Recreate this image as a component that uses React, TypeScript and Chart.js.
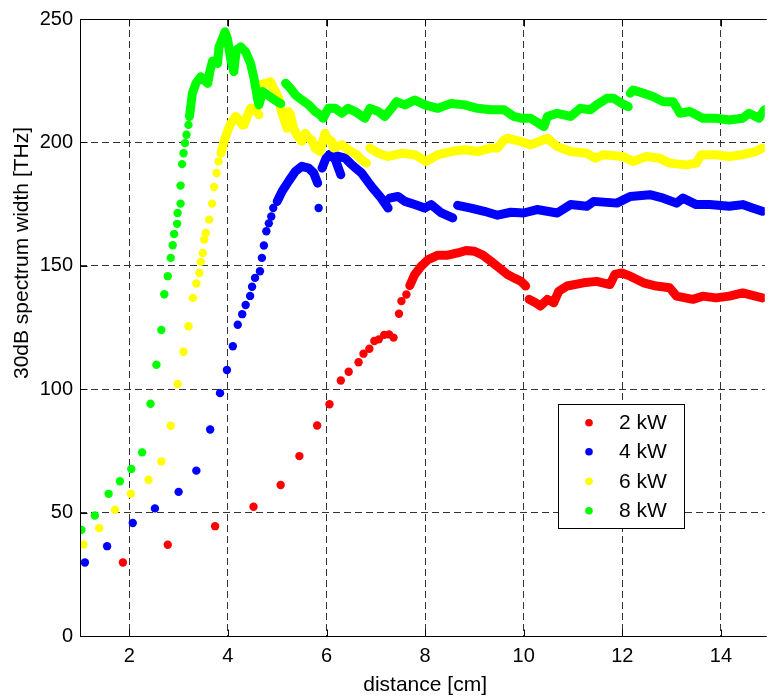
import React, { useEffect, useRef } from "react";
import { Chart, registerables } from "chart.js";

Chart.register(...registerables);

const W = 769;
const H = 697;

const FONT = "'Liberation Sans', Arial, Helvetica, sans-serif";

const xTicks = [2, 4, 6, 8, 10, 12, 14];
const yTicks = [0, 50, 100, 150, 200, 250];
const xMin = 1;
const xMax = 14.89;
const yMin = 0;
const yMax = 250;
const xTitle = "distance [cm]";
const yTitle = "30dB spectrum width [THz]";
const legendLabels = ["2 kW", "4 kW", "6 kW", "8 kW"];
const seriesColors = ["#ff0000", "#0000ff", "#ffff00", "#00ff00"];

// ---- 2 kW (red) ----
const red2SparseX = [1.87, 2.78, 3.74, 4.52, 5.07, 5.45, 5.81, 6.06, 6.29, 6.45, 6.65, 6.75, 6.87, 6.97, 7.06, 7.17, 7.27, 7.36, 7.47, 7.52, 7.62];
const red2SparseY = [29.8, 37, 44.5, 52.4, 61.2, 72.9, 85.3, 93.9, 103.5, 107.1, 110.9, 114.4, 116.4, 119.5, 120.2, 122, 122.2, 120.9, 130.6, 135.7, 138.4];
const red2DenseX = [7.69, 7.79, 7.92, 8.06, 8.26, 8.46, 8.66, 8.83, 9.0, 9.17, 9.33, 9.5, 9.67, 9.8, 9.94, 10.04, null, 10.11, 10.24, 10.34, 10.48, 10.61, 10.71, 10.88, 11.21, 11.48, 11.75, 11.85, 11.99, 12.16, 12.43, 12.69, 12.96, 13.1, 13.43, 13.63, 13.9, 14.17, 14.44, 14.84];
const red2DenseY = [142, 146.5, 149.8, 152.5, 154.3, 154.3, 155.2, 156.2, 155.9, 154.3, 151.9, 149.2, 146.5, 145.1, 143.8, 141.8, null, 136.4, 135, 133.7, 136.4, 135, 139.7, 141.8, 143.1, 143.7, 142.4, 146.5, 147.1, 145.8, 143.1, 141.8, 141.1, 137.7, 136.4, 137.7, 137, 137.7, 139, 137];

// ---- 4 kW (blue) ----
const blue4SparseX = [1.10, 1.55, 2.07, 2.52, 3.00, 3.36, 3.64, 3.84, 3.98, 4.10, 4.20, 4.29, 4.36, 4.45, 4.49, 4.55, 4.65, 4.69, 4.73, 4.78, 4.83, 4.88, 4.92, 5.84];
const blue4SparseY = [29.8, 36.4, 45.8, 51.7, 58.4, 67, 83.7, 98.4, 107.8, 117.4, 126.1, 130.4, 134.1, 137.8, 141.5, 145.1, 147.8, 153.2, 158.2, 164, 167.2, 170, 173.4, 173.4];
const blue4DenseX = [5.0, 5.10, 5.23, 5.37, 5.50, 5.64, 5.74, 5.82, null, 5.91, 5.99, 6.07, 6.18, 6.24, 6.29, null, 6.22, 6.38, 6.51, 6.71, 6.91, 7.11, 7.25, null, 7.28, 7.45, 7.59, 7.79, 7.99, 8.12, 8.33, 8.56, null, 8.66, 8.93, 9.2, 9.47, 9.74, 10.0, 10.27, 10.68, 10.95, 11.28, 11.42, 11.89, 12.16, 12.56, 12.83, 13.1, 13.23, 13.5, 13.77, 14.17, 14.44, 14.64, 14.84];
const blue4DenseY = [176.1, 180.2, 184.2, 188.3, 190.3, 189.6, 187.6, 183.5, null, 189.6, 193.6, 195.2, 193, 189.6, 186.9, null, 194.5, 193.6, 191, 187.6, 182.2, 177.4, 173.4, null, 177.4, 178.1, 176.1, 174.8, 173.4, 174.8, 171.4, 169.4, null, 174.5, 173.4, 172.1, 170.5, 171.7, 171.4, 172.8, 171.4, 174.8, 174.1, 176.1, 175.4, 178.1, 178.8, 177.4, 175.4, 177.4, 174.8, 174.8, 174.1, 174.8, 173.4, 172.1];

// ---- 6 kW (yellow) ----
const yel6SparseX = [1.07, 1.39, 1.71, 2.03, 2.39, 2.65, 2.84, 2.98, 3.10, 3.20, 3.29, 3.36, 3.42, 3.45, 3.49, 3.52, 3.55, 3.62, 3.68, 3.72, 3.77, 3.81];
const yel6SparseY = [37.1, 43.7, 51.1, 57.6, 63.3, 70.7, 85.2, 102.1, 115.2, 125.5, 137, 142.8, 147.1, 151.6, 155.2, 160.6, 163.3, 168.7, 175.2, 181.9, 187.6, 192.3];
const yel6DenseX = [3.86, 3.92, 3.99, 4.06, 4.16, 4.23, 4.29, 4.33, 4.39, 4.46, 4.53, 4.63, null, 4.66, 4.76, 4.86, 4.93, 5.03, 5.07, 5.13, 5.2, null, 5.23, 5.27, 5.33, 5.40, 5.5, 5.57, 5.64, 5.70, 5.77, 5.87, 5.97, 6.01, 6.11, 6.14, 6.31, 6.44, 6.61, 6.71, 6.81, null, 6.88, 7.05, 7.25, 7.52, 7.79, 8.02, 8.26, 8.53, 8.8, 9.06, 9.33, 9.47, 9.6, 9.67, 9.8, 9.94, 10.14, 10.48, 10.68, 10.95, 11.28, 11.45, 11.62, 12.02, 12.22, 12.49, 12.76, 12.96, 13.3, 13.5, 13.6, 13.9, 14.17, 14.44, 14.71, 14.84];
const yel6DenseY = [195.6, 200.4, 204.4, 207.8, 210.5, 209.1, 207.1, 207.1, 210.5, 213.8, 213.8, 211.2, null, 223.3, 223.9, 224.6, 221.9, 217.9, 213.8, 209.8, 205.7, null, 212.5, 211.2, 205.7, 203.1, 200.4, 203.7, 201.7, 201, 197.7, 196.3, 203.7, 201.7, 200.4, 197.7, 199, 197, 195, 193, 191.6, null, 197.7, 195.6, 194.3, 195.6, 195, 192.3, 195, 196.3, 197, 196.3, 197.7, 197.7, 201, 201.7, 201, 200.4, 199, 201.7, 198.3, 196.3, 195.6, 193.6, 195, 194.3, 192.3, 194.3, 193.6, 191.6, 190.9, 191.6, 195, 195, 194.3, 195, 196.3, 197.7];

// ---- 8 kW (green) ----
const grn8SparseX = [1.03, 1.30, 1.58, 1.81, 2.04, 2.26, 2.43, 2.55, 2.65, 2.71, 2.78, 2.84, 2.88, 2.91, 2.97, 2.98, 3.04, 3.04, 3.07, 3.10, 3.13, 3.16, 3.20];
const grn8SparseY = [43, 48.8, 57.6, 62.7, 67.7, 74.4, 94.1, 109.9, 124, 138.5, 145.8, 153.2, 158.3, 162.9, 167, 171.4, 175.2, 182.5, 191.2, 195.6, 199.7, 203.1, 207.1];
const grn8DenseX = [3.22, 3.25, 3.28, 3.35, 3.45, 3.52, 3.59, 3.64, 3.69, 3.79, 3.82, 3.89, 3.94, 3.99, 4.06, 4.12, 4.17, 4.26, 4.36, 4.46, 4.53, 4.60, 4.63, 4.70, 4.80, 4.90, 5.0, 5.07, null, 5.17, 5.27, 5.37, 5.5, 5.64, 5.77, 5.87, 5.93, 6.04, 6.18, 6.31, 6.44, 6.58, 6.78, 6.88, 7.05, 7.18, 7.32, 7.42, 7.59, 7.79, 7.99, 8.26, 8.53, 8.8, 9.06, 9.33, 9.6, 9.8, 9.94, 10.14, 10.41, 10.48, 10.68, 10.95, 11.15, 11.35, 11.48, 11.69, 11.82, 11.99, 12.12, null, 12.16, 12.22, 12.43, 12.63, 12.83, 13.03, 13.17, 13.37, 13.63, 13.9, 14.17, 14.44, 14.57, 14.77, 14.88];
const grn8DenseY = [210.5, 215.2, 219.9, 223.9, 226.6, 225.3, 223.9, 229.3, 233, 232, 238.7, 242.1, 244.8, 242.1, 233.4, 228.7, 237.4, 238.7, 236.7, 232, 225.9, 217.9, 215.2, 220.6, 219.2, 217.9, 216.5, 215.8, null, 224, 221.9, 219.2, 217.2, 215.2, 212.5, 211.2, 209.8, 213.8, 213.8, 211.8, 213.8, 212.5, 209.8, 213.8, 212.5, 210.5, 213.8, 216.5, 215.2, 217.2, 215.2, 213.8, 215.8, 215.2, 213.8, 213.2, 213.2, 210.5, 209.8, 209.8, 206.4, 210.5, 211.8, 210.5, 213.8, 213.2, 215.2, 217.9, 217.9, 215.8, 214.5, null, 219.9, 221.2, 219.9, 218.5, 216.5, 216.5, 211.8, 212.5, 209.8, 209.8, 209.1, 209.8, 211.8, 209.8, 213.2];

const sparseXs = [red2SparseX, blue4SparseX, yel6SparseX, grn8SparseX];
const sparseYs = [red2SparseY, blue4SparseY, yel6SparseY, grn8SparseY];
const denseXs = [red2DenseX, blue4DenseX, yel6DenseX, grn8DenseX];
const denseYs = [red2DenseY, blue4DenseY, yel6DenseY, grn8DenseY];

const pts = (xs: (number | null)[], ys: (number | null)[]) =>
  xs.map((x, i) => ({ x, y: ys[i] }));

const DOT_R = 4.2;
const BAND_W = 9;

const decorPlugin = {
  id: "decor",
  afterDraw(chart: any) {
    const { ctx, chartArea } = chart;
    const xs = chart.scales.x;
    const ys = chart.scales.y;
    const L = Math.round(chartArea.left) + 0.5;
    const T = Math.round(chartArea.top) + 0.5;
    const B = Math.round(chartArea.bottom) + 0.5;
    const R = chartArea.right + 2;
    ctx.save();
    ctx.strokeStyle = "#000";
    ctx.lineWidth = 1;
    ctx.setLineDash([]);
    ctx.beginPath();
    ctx.moveTo(R, T);
    ctx.lineTo(L, T);
    ctx.lineTo(L, B);
    ctx.lineTo(R, B);
    ctx.stroke();
    const TL = 7;
    ctx.beginPath();
    xTicks.forEach((v) => {
      const px = Math.round(xs.getPixelForValue(v)) + 0.5;
      ctx.moveTo(px, B);
      ctx.lineTo(px, B - TL);
      ctx.moveTo(px, T);
      ctx.lineTo(px, T + TL);
    });
    yTicks.forEach((v) => {
      const py = Math.round(ys.getPixelForValue(v)) + 0.5;
      ctx.moveTo(L, py);
      ctx.lineTo(L + TL, py);
    });
    ctx.stroke();

    ctx.fillStyle = "#000";
    ctx.font = `21px ${FONT}`;
    ctx.textAlign = "center";
    ctx.textBaseline = "middle";
    ctx.fillText(xTitle, (chartArea.left + xs.getPixelForValue(15)) / 2, 685);
    ctx.save();
    ctx.translate(22, 253);
    ctx.rotate(-Math.PI / 2);
    ctx.fillText(yTitle, 0, 0);
    ctx.restore();

    const bx = 558.5, by = 404.5, bw = 126, bh = 124;
    ctx.fillStyle = "#fff";
    ctx.fillRect(bx, by, bw, bh);
    ctx.strokeStyle = "#000";
    ctx.strokeRect(bx, by, bw, bh);
    const rowY = [422.7, 451.7, 481.2, 510.7];
    ctx.textAlign = "left";
    ctx.font = `21px ${FONT}`;
    legendLabels.forEach((lab, i) => {
      ctx.beginPath();
      ctx.fillStyle = seriesColors[i];
      ctx.arc(589, rowY[i], 3.8, 0, Math.PI * 2);
      ctx.fill();
      ctx.fillStyle = "#000";
      ctx.fillText(lab, 619, rowY[i] + 1);
    });
    ctx.restore();
  },
};

export default function App() {
  const ref = useRef<HTMLCanvasElement>(null);
  useEffect(() => {
    const canvas = ref.current;
    if (!canvas) return;
    const datasets: any[] = [];
    for (let s = 0; s < 4; s++) {
      const color = seriesColors[s];
      datasets.push({
        label: legendLabels[s],
        data: pts(sparseXs[s], sparseYs[s]),
        showLine: false,
        pointRadius: DOT_R,
        pointBorderWidth: 0,
        pointBackgroundColor: color,
        pointBorderColor: color,
        order: 8 - s * 2,
      });
      datasets.push({
        label: legendLabels[s] + " band",
        data: pts(denseXs[s], denseYs[s]),
        showLine: true,
        spanGaps: false,
        borderColor: color,
        borderWidth: BAND_W,
        borderCapStyle: "round",
        borderJoinStyle: "round",
        tension: 0,
        pointRadius: 0,
        pointHoverRadius: 0,
        order: 7 - s * 2,
      });
    }
    const chart = new Chart(canvas, {
      type: "scatter",
      data: { datasets },
      plugins: [decorPlugin],
      options: {
        animation: false,
        responsive: false,
        devicePixelRatio: 1,
        events: [],
        layout: { padding: { top: 15, left: 0, right: 0, bottom: 0 } },
        plugins: {
          legend: { display: false },
          tooltip: { enabled: false },
          title: { display: false },
        },
        scales: {
          x: {
            type: "linear",
            min: xMin,
            max: xMax,
            afterBuildTicks: (sc: any) => {
              sc.ticks = xTicks.map((v) => ({ value: v }));
            },
            afterFit: (sc: any) => {
              sc.height = 61;
            },
            grid: { color: "#333", lineWidth: 1, drawTicks: false },
            border: { display: false, dash: [7, 4] },
            ticks: {
              color: "#000",
              padding: 8,
              maxRotation: 0,
              font: { family: FONT, size: 20 },
              callback: (v: any) => String(v),
            },
          },
          y: {
            type: "linear",
            min: yMin,
            max: yMax,
            afterBuildTicks: (sc: any) => {
              sc.ticks = yTicks.map((v) => ({ value: v }));
            },
            afterFit: (sc: any) => {
              sc.width = 80;
            },
            grid: { color: "#333", lineWidth: 1, drawTicks: false },
            border: { display: false, dash: [7, 4] },
            ticks: {
              color: "#000",
              padding: 7,
              font: { family: FONT, size: 20 },
              callback: (v: any) => String(v),
            },
          },
        },
      } as any,
    });
    return () => chart.destroy();
  }, []);
  return (
    <div style={{ position: "absolute", left: 0, top: 0, width: W, height: H, background: "#fff" }}>
      <canvas ref={ref} width={W} height={H} style={{ display: "block", width: W, height: H }} />
    </div>
  );
}
